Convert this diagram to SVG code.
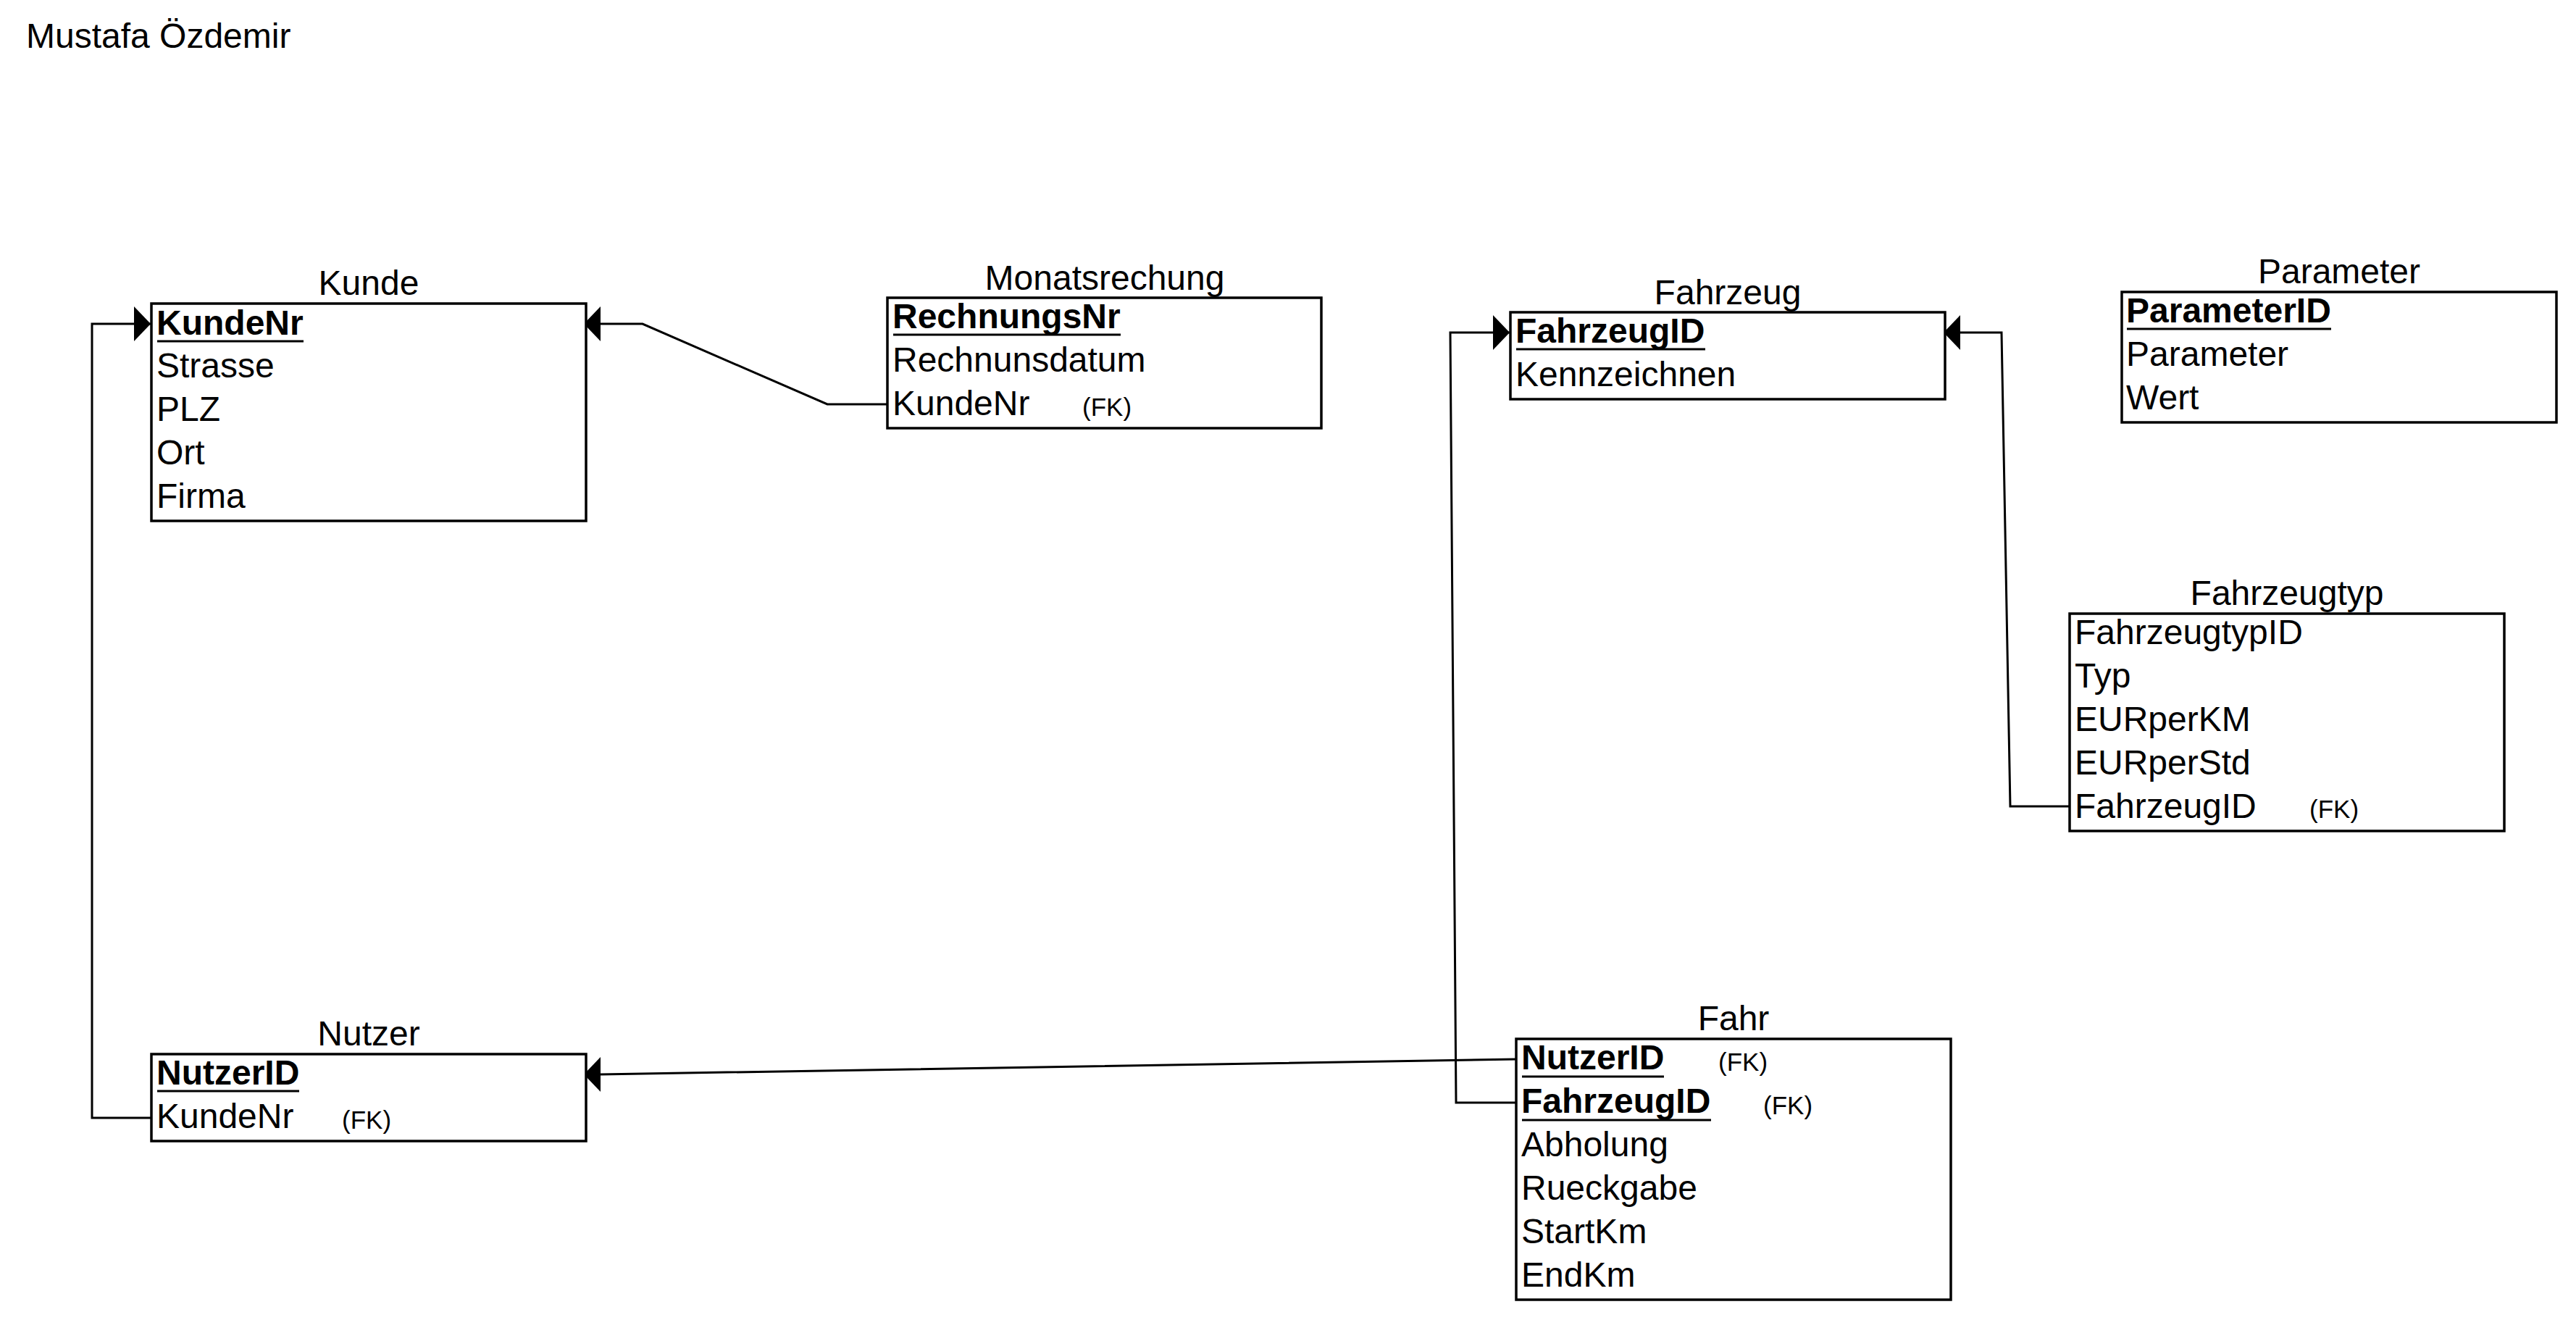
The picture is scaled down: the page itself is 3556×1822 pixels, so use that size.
<svg xmlns="http://www.w3.org/2000/svg" width="3556" height="1822" viewBox="0 0 3556 1822">
<style>
text{font-family:"Liberation Sans",Arial,sans-serif;fill:#000}
.t{font-size:48px}
.lbl{font-size:48px;text-anchor:middle}
.pk{font-size:48px;font-weight:bold}
.fk{font-size:35px}
.box{fill:#fff;stroke:#000;stroke-width:3.5}
.ul{stroke:#000;stroke-width:3}
.con{fill:none;stroke:#000;stroke-width:3}
</style>
<defs>
<marker id="arr" markerUnits="userSpaceOnUse" viewBox="0 0 23 48" markerWidth="23" markerHeight="48" refX="23" refY="24" orient="auto">
<path d="M0,0 L23,24 L0,48 Z" fill="#000"/>
</marker>
</defs>
<rect width="3556" height="1822" fill="#fff"/>
<text class="t" x="36" y="66">Mustafa Özdemir</text>

<g id="connectors">
<path class="con" d="M1225,558 L1142,558 L887,447 L806,447" marker-end="url(#arr)"/>
<path class="con" d="M209,1543 L127,1543 L127,447 L208,447" marker-end="url(#arr)"/>
<path class="con" d="M2093,1462 L829,1483 L806,1483" marker-end="url(#arr)"/>
<path class="con" d="M2093,1522 L2010,1522 L2002,459 L2084,459" marker-end="url(#arr)"/>
<path class="con" d="M2857,1113 L2775,1113 L2763,459 L2683,459" marker-end="url(#arr)"/>
</g>

<g id="kunde">
<text class="lbl" x="509" y="407">Kunde</text>
<rect class="box" x="209" y="419" width="600" height="300"/>
<text class="pk" x="216" y="462">KundeNr</text>
<line class="ul" x1="217" y1="471" x2="419" y2="471"/>
<text class="t" x="216" y="521">Strasse</text>
<text class="t" x="216" y="581">PLZ</text>
<text class="t" x="216" y="641">Ort</text>
<text class="t" x="216" y="701">Firma</text>
</g>

<g id="monatsrechung">
<text class="lbl" x="1525" y="400">Monatsrechung</text>
<rect class="box" x="1225" y="411" width="599" height="180"/>
<text class="pk" x="1232" y="453">RechnungsNr</text>
<line class="ul" x1="1233" y1="462" x2="1547" y2="462"/>
<text class="t" x="1232" y="513">Rechnunsdatum</text>
<text class="t" x="1232" y="573">KundeNr</text>
<text class="fk" x="1494" y="574">(FK)</text>
</g>

<g id="fahrzeug">
<text class="lbl" x="2385" y="420">Fahrzeug</text>
<rect class="box" x="2085" y="431" width="600" height="120"/>
<text class="pk" x="2092" y="473">FahrzeugID</text>
<line class="ul" x1="2093" y1="482" x2="2354" y2="482"/>
<text class="t" x="2092" y="533">Kennzeichnen</text>
</g>

<g id="parameter">
<text class="lbl" x="3229" y="391">Parameter</text>
<rect class="box" x="2929" y="403" width="600" height="180"/>
<text class="pk" x="2935" y="445">ParameterID</text>
<line class="ul" x1="2936" y1="454" x2="3218" y2="454"/>
<text class="t" x="2935" y="505">Parameter</text>
<text class="t" x="2935" y="565">Wert</text>
</g>

<g id="fahrzeugtyp">
<text class="lbl" x="3157" y="835">Fahrzeugtyp</text>
<rect class="box" x="2857" y="847" width="600" height="300"/>
<text class="t" x="2864" y="889">FahrzeugtypID</text>
<text class="t" x="2864" y="949">Typ</text>
<text class="t" x="2864" y="1009">EURperKM</text>
<text class="t" x="2864" y="1069">EURperStd</text>
<text class="t" x="2864" y="1129">FahrzeugID</text>
<text class="fk" x="3188" y="1129">(FK)</text>
</g>

<g id="nutzer">
<text class="lbl" x="509" y="1443">Nutzer</text>
<rect class="box" x="209" y="1455" width="600" height="120"/>
<text class="pk" x="216" y="1497">NutzerID</text>
<line class="ul" x1="217" y1="1506" x2="413" y2="1506"/>
<text class="t" x="216" y="1557">KundeNr</text>
<text class="fk" x="472" y="1558">(FK)</text>
</g>

<g id="fahr">
<text class="lbl" x="2393" y="1422">Fahr</text>
<rect class="box" x="2093" y="1434" width="600" height="360"/>
<text class="pk" x="2100" y="1476">NutzerID</text>
<line class="ul" x1="2101" y1="1486" x2="2297" y2="1486"/>
<text class="fk" x="2372" y="1478">(FK)</text>
<text class="pk" x="2100" y="1536">FahrzeugID</text>
<line class="ul" x1="2101" y1="1546" x2="2362" y2="1546"/>
<text class="fk" x="2434" y="1538">(FK)</text>
<text class="t" x="2100" y="1596">Abholung</text>
<text class="t" x="2100" y="1656">Rueckgabe</text>
<text class="t" x="2100" y="1716">StartKm</text>
<text class="t" x="2100" y="1776">EndKm</text>
</g>
</svg>
